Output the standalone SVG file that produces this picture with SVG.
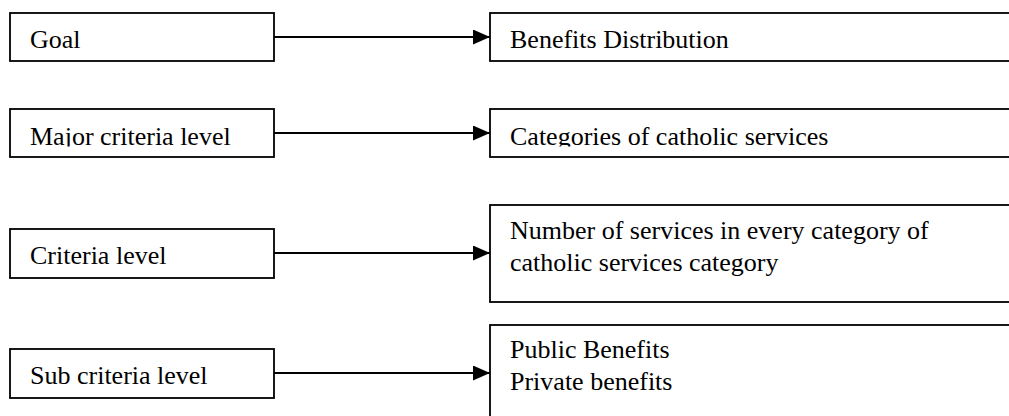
<svg xmlns="http://www.w3.org/2000/svg" width="1009" height="416" viewBox="0 0 1009 416">
  <style>
    .box { fill: #fff; stroke: #000; stroke-width: 1.8; }
    .lbl { font-family: "Liberation Serif", "Times New Roman", serif; font-size: 26px; fill: #000; }
    .link { stroke: #000; stroke-width: 1.8; fill: none; }
  </style>
  <defs>
    <marker id="arrow" viewBox="0 0 17 15" refX="17" refY="7.5" markerWidth="17" markerHeight="15" markerUnits="userSpaceOnUse" orient="auto">
      <path d="M0,0 L17,7.5 L0,15 Z" fill="#000"/>
    </marker>
    <!-- text area of the second row stops just under the baseline -->
    <clipPath id="row2clip">
      <rect x="0" y="100" width="1009" height="46.5"/>
    </clipPath>
  </defs>

  <rect width="1009" height="416" fill="#fff"/>

  <g id="goal">
    <rect class="box" x="10" y="13" width="264" height="48"/>
    <text class="lbl" x="30" y="48">Goal</text>
  </g>
  <g id="benefits-distribution">
    <rect class="box" x="490" y="13" width="530" height="48"/>
    <text class="lbl" x="510" y="48">Benefits Distribution</text>
  </g>

  <g id="major-criteria-level">
    <rect class="box" x="10" y="109" width="264" height="48"/>
    <text class="lbl" x="30" y="145" clip-path="url(#row2clip)">Major criteria level</text>
  </g>
  <g id="categories">
    <rect class="box" x="490" y="109" width="530" height="48"/>
    <text class="lbl" x="510" y="145" clip-path="url(#row2clip)">Categories of catholic services</text>
  </g>

  <g id="criteria-level">
    <rect class="box" x="10" y="229" width="264" height="49"/>
    <text class="lbl" x="30" y="264">Criteria level</text>
  </g>
  <g id="number-of-services">
    <rect class="box" x="490" y="205" width="530" height="97"/>
    <text class="lbl" x="510" y="239">Number of services in every category of</text>
    <text class="lbl" x="510" y="271">catholic services category</text>
  </g>

  <g id="sub-criteria-level">
    <rect class="box" x="10" y="349" width="264" height="49"/>
    <text class="lbl" x="30" y="384">Sub criteria level</text>
  </g>
  <g id="benefit-types">
    <rect class="box" x="490" y="325" width="530" height="110"/>
    <text class="lbl" x="510" y="358">Public Benefits</text>
    <text class="lbl" x="510" y="390">Private benefits</text>
  </g>

  <g id="connectors">
    <line class="link" x1="274" y1="37" x2="490" y2="37" marker-end="url(#arrow)"/>
    <line class="link" x1="274" y1="133" x2="490" y2="133" marker-end="url(#arrow)"/>
    <line class="link" x1="274" y1="253" x2="490" y2="253" marker-end="url(#arrow)"/>
    <line class="link" x1="274" y1="373" x2="490" y2="373" marker-end="url(#arrow)"/>
  </g>
</svg>
